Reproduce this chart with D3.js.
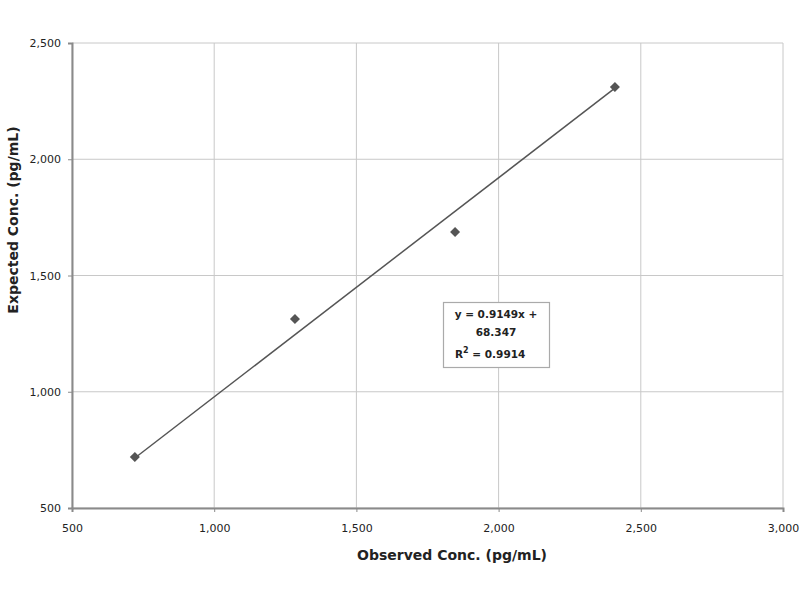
<!DOCTYPE html>
<html><head><meta charset="utf-8">
<script src="https://cdn.jsdelivr.net/npm/d3@7"></script>
<style>body{margin:0;background:#fff;} text{font-family:"DejaVu Sans",sans-serif;}</style>
</head><body>
<svg id="c" width="800" height="600"></svg>
<script>
const observed = [721, 1284, 1847, 2409];
const expected = [719, 1313, 1687, 2311];
const trendX = [721, 2409];
const trendY = [715, 2306];
const xTicks = [500, 1000, 1500, 2000, 2500, 3000];
const yTicks = [500, 1000, 1500, 2000, 2500];
const eqLines = ["y = 0.9149x +", "68.347"];
const r2Text = "0.9914";

const svg = d3.select("#c");
const m = {l:72, r:17, t:43, b:92};
const W = 800, H = 600;
const x = d3.scaleLinear().domain([500,3000]).range([m.l, W-m.r]);
const y = d3.scaleLinear().domain([500,2500]).range([H-m.b, m.t]);
const fmt = d3.format(",");
const FF = "'DejaVu Sans', sans-serif";

// gridlines
svg.append("g").selectAll("line").data(xTicks).join("line")
  .attr("x1", d=>x(d)).attr("x2", d=>x(d)).attr("y1", y(500)).attr("y2", y(2500))
  .attr("stroke", "#c8c8c8").attr("stroke-width", 1);
svg.append("g").selectAll("line").data(yTicks).join("line")
  .attr("x1", x(500)).attr("x2", x(3000)).attr("y1", d=>y(d)).attr("y2", d=>y(d))
  .attr("stroke", "#c8c8c8").attr("stroke-width", 1);

// axes
const xa = svg.append("g").attr("transform", `translate(0,${y(500)})`)
  .call(d3.axisBottom(x).tickValues(xTicks).tickFormat(fmt).tickSize(4).tickPadding(12));
const ya = svg.append("g").attr("transform", `translate(${x(500)},0)`)
  .call(d3.axisLeft(y).tickValues(yTicks).tickFormat(fmt).tickSize(4).tickPadding(7));
[xa, ya].forEach(g => {
  g.select(".domain").attr("stroke", "#8a8a8a").attr("stroke-width", 2);
  g.selectAll(".tick line").attr("stroke", "#8a8a8a");
  g.selectAll("text").attr("font-size", 11).attr("fill", "#222").style("font-family", FF);
});

// trendline
svg.append("line")
  .attr("x1", x(trendX[0])).attr("y1", y(trendY[0]))
  .attr("x2", x(trendX[1])).attr("y2", y(trendY[1]))
  .attr("stroke", "#555").attr("stroke-width", 1.5);

// points
const sym = d3.symbol().type(d3.symbolDiamond2).size(64);
svg.append("g").selectAll("path").data(observed.map((v,i)=>[v, expected[i]])).join("path")
  .attr("d", sym).attr("transform", d=>`translate(${x(d[0])},${y(d[1])})`)
  .attr("fill", "#555");

// equation box
const box = svg.append("g");
box.append("rect").attr("x", 443.5).attr("y", 302.5).attr("width", 106).attr("height", 65)
  .attr("fill", "#fff").attr("stroke", "#aaa").attr("stroke-width", 1.2);
eqLines.forEach((t,i) => {
  box.append("text").attr("x", 496).attr("y", 318 + i*18).attr("text-anchor", "middle")
    .attr("font-size", 10.5).attr("font-weight", "bold").attr("fill", "#222").text(t);
});
const r2 = box.append("text").attr("x", 455).attr("y", 358).attr("font-size", 10.5)
  .attr("font-weight", "bold").attr("fill", "#222");
r2.append("tspan").text("R");
r2.append("tspan").attr("dy", -5).attr("font-size", 8).text("2");
r2.append("tspan").attr("dy", 5).text(" = " + r2Text);

// axis titles
svg.append("text").attr("x", 452).attr("y", 560).attr("text-anchor", "middle")
  .attr("font-size", 14).attr("font-weight", "bold").attr("fill", "#222").text("Observed Conc. (pg/mL)");
svg.append("text").attr("transform", `translate(18,220) rotate(-90)`)
  .attr("text-anchor", "middle").attr("font-size", 14).attr("font-weight", "bold").attr("fill", "#222")
  .text("Expected Conc. (pg/mL)");
</script>
</body></html>
